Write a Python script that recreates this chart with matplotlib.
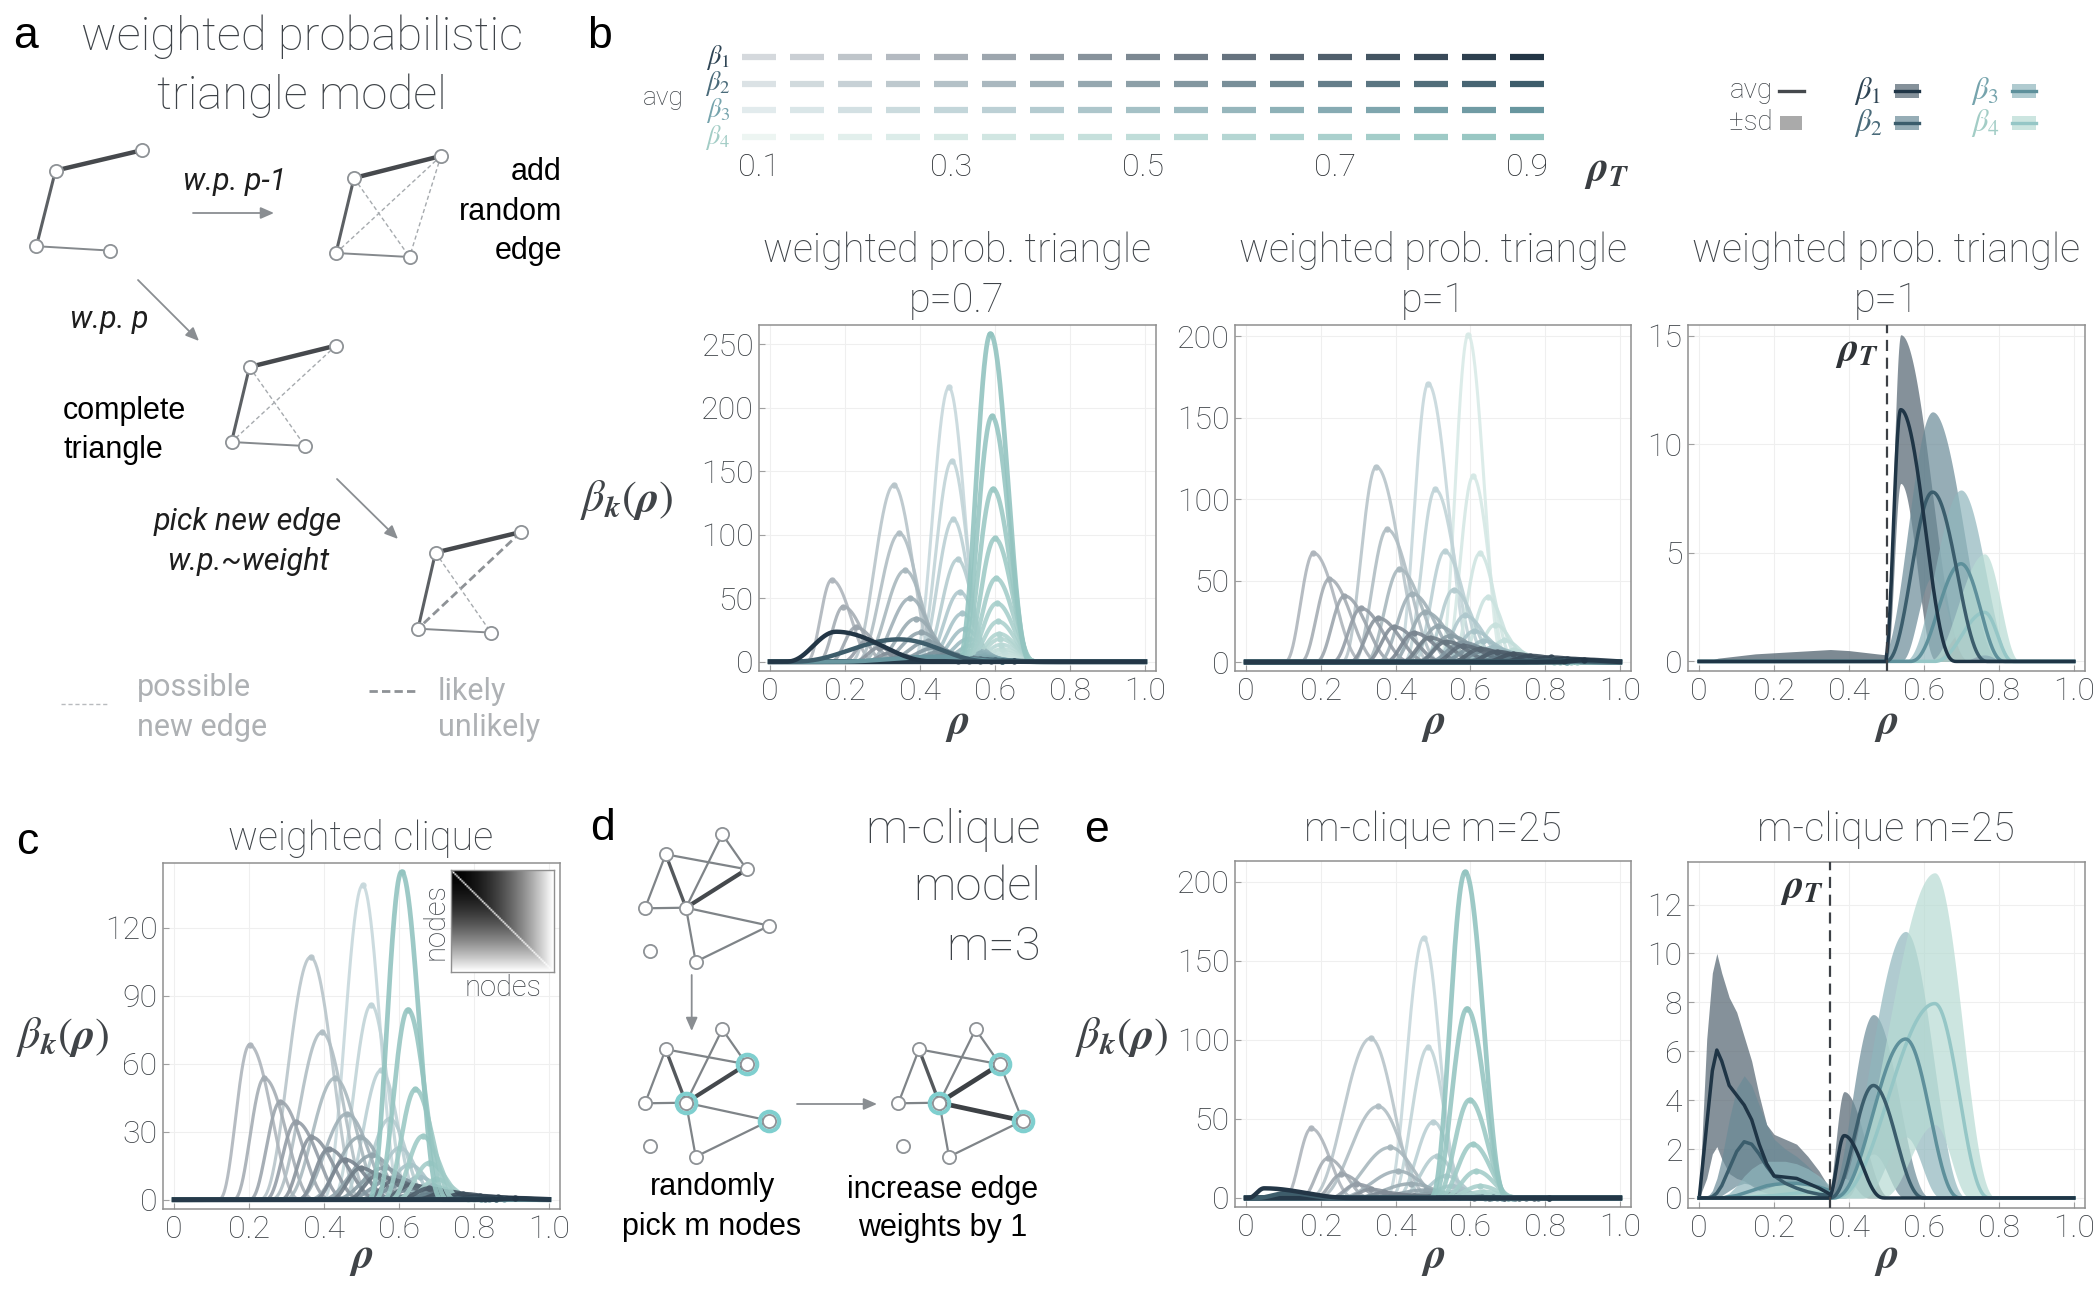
import numpy as np
import matplotlib
matplotlib.use("Agg")
import matplotlib.pyplot as plt
from matplotlib.colors import to_rgb
from matplotlib.patches import Rectangle

plt.rcParams["font.family"] = ["Roboto", "DejaVu Sans"]
plt.rcParams["font.weight"] = "light"
plt.rcParams["mathtext.fontset"] = "custom"
plt.rcParams["mathtext.rm"] = "STIXGeneral"
plt.rcParams["mathtext.it"] = "STIXGeneral:italic"
plt.rcParams["mathtext.bf"] = "STIXGeneral:italic:bold"

# ---------------- data ----------------
rho_T = [0.1, 0.15, 0.2, 0.25, 0.3, 0.35, 0.4, 0.45, 0.5, 0.55, 0.6, 0.65, 0.7, 0.75, 0.8, 0.85, 0.9]
x_ticks = [0, 0.2, 0.4, 0.6, 0.8, 1.0]
x_tick_labels = ["0", "0.2", "0.4", "0.6", "0.8", "1.0"]
legend_ticks = [0.1, 0.3, 0.5, 0.7, 0.9]

# betti curve peaks: one row per beta_k, columns ordered by rho_T (light -> dark)
# panel b, weighted prob. triangle p=0.7
b1_pos = [
    [0.164, 0.195, 0.228, 0.26, 0.29, 0.32, 0.35, 0.38, 0.41, 0.44, 0.47, 0.5, 0.53, 0.56, 0.59, 0.62, 0.65],
    [0.33, 0.345, 0.36, 0.374, 0.39, 0.403, 0.42, 0.44, 0.46, 0.48, 0.5, 0.52, 0.54, 0.56, 0.58, 0.6, 0.62],
    [0.477, 0.485, 0.489, 0.5, 0.506, 0.513, 0.52, 0.53, 0.54, 0.55, 0.56, 0.57, 0.58, 0.59, 0.6, 0.61, 0.62],
    [0.645, 0.64, 0.635, 0.63, 0.627, 0.624, 0.62, 0.617, 0.614, 0.611, 0.608, 0.605, 0.603, 0.6, 0.595, 0.592, 0.588],
]
b1_height = [
    [64.5, 43.4, 27, 17, 11, 7, 4.5, 3, 2, 1.5, 1, 0.8, 0.6, 0.5, 0.4, 0.3, 0.2],
    [139, 101, 72, 50, 34, 23, 16, 11, 8, 6, 4.5, 3.5, 2.5, 2, 1.5, 1, 0.7],
    [216, 158, 112, 80.5, 55, 38, 26, 18, 13, 9, 6.5, 4.5, 3.2, 2.3, 1.6, 1.1, 0.8],
    [1.5, 2, 3, 4, 5.5, 7.5, 10, 13.5, 18, 22, 31.7, 46, 65.6, 97, 136, 193, 258],
]
b1_wl = [0.07, 0.12, 0.10, 0.09]
b1_wr = [0.12, 0.12, 0.10, 0.11]
# broad, dark curves of panel b (p=0.7)
b1_broad_beta = [2, 1, 0]
b1_broad_pos = [0.45, 0.344, 0.176]
b1_broad_height = [4, 17.6, 23.6]
b1_broad_wl = [0.3, 0.3, 0.14]
b1_broad_wr = [0.2, 0.26, 0.28]

# panel b, weighted prob. triangle p=1
b2_pos = [
    [0.18, 0.222, 0.263, 0.307, 0.353, 0.396, 0.448, 0.491, 0.535, 0.58, 0.625, 0.67, 0.715, 0.76, 0.815, 0.86, 0.905],
    [0.348, 0.377, 0.41, 0.444, 0.479, 0.513, 0.545, 0.578, 0.61, 0.64, 0.67, 0.7, 0.73, 0.76, 0.79, 0.82, 0.85],
    [0.487, 0.506, 0.531, 0.555, 0.585, 0.61, 0.635, 0.66, 0.685, 0.71, 0.735, 0.76, 0.78, 0.8, 0.82, 0.84, 0.86],
    [0.594, 0.607, 0.625, 0.646, 0.667, 0.691, 0.714, 0.735, 0.755, 0.775, 0.795, 0.81, 0.825, 0.84, 0.855, 0.87, 0.885],
]
b2_height = [
    [67, 51, 40.6, 33, 27, 21.6, 18, 15, 12.5, 10, 8, 6.3, 5, 3.8, 2.8, 2, 1.3],
    [120, 81.5, 57, 42, 30.7, 22, 16, 12, 9, 7, 5.5, 4, 3, 2.2, 1.5, 1, 0.7],
    [171, 106, 68, 44.4, 28.6, 19, 13, 9, 6.5, 4.5, 3.2, 2.3, 1.6, 1.1, 0.8, 0.5, 0.3],
    [201, 114, 66.7, 39.8, 23, 13.3, 7.4, 4.2, 2.4, 1.4, 0.8, 0.5, 0.3, 0.2, 0.1, 0.1, 0.05],
]
b2_wl = [0.08, 0.095, 0.087, 0.08]
b2_wr = [0.14, 0.15, 0.13, 0.10]

# panel b, p=1 at rho_T=0.5: avg and +-sd envelopes (peak, height, left/right width)
b3_threshold = 0.5
b3_pos = [0.538, 0.623, 0.699, 0.762]
b3_avg = [11.6, 7.8, 4.5, 2.26]
b3_avg_wl = [0.045, 0.13, 0.14, 0.14]
b3_avg_wr = [0.15, 0.15, 0.12, 0.08]
b3_up = [15.05, 11.5, 7.9, 4.96]
b3_up_wl = [0.045, 0.15, 0.16, 0.16]
b3_up_wr = [0.19, 0.19, 0.15, 0.1]
b3_lo = [8.2, 3.9, 1.3, 0.3]
b3_lo_wl = [0.04, 0.09, 0.08, 0.07]
b3_lo_wr = [0.1, 0.1, 0.08, 0.06]
b3_pre_rho = [0.0, 0.02, 0.05, 0.1, 0.15, 0.2, 0.25, 0.3, 0.35, 0.4, 0.45, 0.5]
b3_pre_up = [0, 0, 0.15, 0.25, 0.35, 0.4, 0.45, 0.5, 0.55, 0.5, 0.4, 0.3]

# panel c, weighted clique
c_pos = [
    [0.201, 0.24, 0.283, 0.325, 0.366, 0.412, 0.455, 0.498, 0.543, 0.587, 0.632, 0.68, 0.726, 0.77, 0.817, 0.864, 0.909],
    [0.364, 0.394, 0.429, 0.461, 0.495, 0.528, 0.56, 0.59, 0.62, 0.65, 0.68, 0.71, 0.74, 0.77, 0.8, 0.83, 0.86],
    [0.503, 0.526, 0.552, 0.575, 0.602, 0.629, 0.655, 0.68, 0.705, 0.73, 0.755, 0.78, 0.8, 0.82, 0.84, 0.86, 0.88],
    [0.83, 0.82, 0.8, 0.785, 0.77, 0.76, 0.75, 0.74, 0.73, 0.72, 0.71, 0.7, 0.681, 0.663, 0.644, 0.624, 0.607],
]
c_height = [
    [68.3, 53.6, 43.2, 34.4, 27.6, 22.4, 17.7, 14, 10.8, 8.5, 6.5, 5, 3.6, 2.5, 1.6, 1, 0.6],
    [107, 73.8, 53.6, 37.9, 27.6, 19.6, 14, 10, 7, 5, 3.5, 2.5, 1.7, 1.1, 0.7, 0.4, 0.3],
    [138.7, 86, 57, 35.7, 22.9, 15.5, 10, 6.5, 4.2, 2.7, 1.7, 1.1, 0.7, 0.45, 0.3, 0.2, 0.1],
    [0.1, 0.2, 0.3, 0.5, 0.8, 1.2, 1.5, 2.2, 2.8, 4, 5, 9, 16.2, 28, 48.7, 83.8, 144.6],
]
c_wl = [0.085, 0.14, 0.11, 0.09]
c_wr = [0.14, 0.14, 0.11, 0.11]

# panel e, m-clique m=25
e1_pos = [
    [0.174, 0.218, 0.255, 0.295, 0.333, 0.37, 0.41, 0.45, 0.49, 0.53, 0.57, 0.61, 0.65, 0.69, 0.73, 0.77, 0.81],
    [0.333, 0.353, 0.385, 0.407, 0.442, 0.48, 0.51, 0.54, 0.57, 0.6, 0.63, 0.66, 0.69, 0.72, 0.75, 0.78, 0.81],
    [0.475, 0.487, 0.501, 0.511, 0.536, 0.55, 0.565, 0.58, 0.595, 0.61, 0.625, 0.64, 0.655, 0.67, 0.685, 0.7, 0.715],
    [0.73, 0.72, 0.71, 0.7, 0.69, 0.68, 0.67, 0.66, 0.655, 0.645, 0.635, 0.626, 0.616, 0.606, 0.598, 0.591, 0.586],
]
e1_height = [
    [44, 25, 15, 8.7, 5.5, 3.5, 2.2, 1.4, 0.9, 0.6, 0.4, 0.3, 0.2, 0.15, 0.1, 0.1, 0.05],
    [101, 58, 32, 17, 9, 5, 3, 2, 1.3, 0.9, 0.6, 0.4, 0.3, 0.2, 0.15, 0.1, 0.05],
    [164.5, 95.3, 48.2, 26.6, 14, 7.6, 4.2, 2.3, 1.3, 0.8, 0.5, 0.3, 0.2, 0.1, 0.1, 0.05, 0.05],
    [0.05, 0.1, 0.2, 0.3, 0.4, 0.6, 0.9, 1.3, 1.6, 2, 4, 7.6, 17, 34, 62, 119.7, 206],
]
e1_wl = [0.075, 0.17, 0.105, 0.095]
e1_wr = [0.12, 0.15, 0.105, 0.115]
e1_broad_beta = [1, 0]
e1_broad_pos = [0.11, 0.048]
e1_broad_height = [3.2, 6.1]
e1_broad_wl = [0.09, 0.045]
e1_broad_wr = [0.14, 0.25]

# panel e, m-clique m=25 at rho_T=0.35
e2_threshold = 0.35
e2_left_rho = [0, 0.02, 0.035, 0.047, 0.06, 0.08, 0.1, 0.12, 0.14, 0.16, 0.18, 0.2, 0.23, 0.26, 0.29, 0.32, 0.35]
e2_left_avg = [
    [0, 3.0, 5.2, 6.05, 5.6, 4.6, 4.2, 3.8, 3.2, 2.2, 1.4, 0.9, 0.85, 0.8, 0.6, 0.4, 0.15],
    [0, 0, 0.05, 0.2, 0.5, 1.2, 1.9, 2.3, 2.2, 1.8, 1.3, 0.9, 0.6, 0.4, 0.25, 0.15, 0.1],
    [0, 0, 0, 0, 0, 0.05, 0.1, 0.2, 0.3, 0.4, 0.5, 0.55, 0.6, 0.6, 0.55, 0.45, 0.3],
    [0, 0, 0, 0, 0, 0, 0, 0.02, 0.04, 0.06, 0.08, 0.1, 0.15, 0.2, 0.25, 0.2, 0.15],
]
e2_left_up = [
    [0, 6.5, 9.2, 10.0, 9.2, 8.2, 7.6, 6.6, 5.6, 4.2, 3.0, 2.6, 2.4, 2.2, 1.7, 1.1, 0.35],
    [0, 0, 0.3, 0.8, 1.6, 3.2, 4.5, 5.0, 4.6, 3.8, 3.0, 2.4, 2.0, 1.7, 1.3, 0.8, 0.3],
    [0, 0, 0, 0, 0.05, 0.2, 0.5, 0.9, 1.2, 1.4, 1.5, 1.5, 1.5, 1.4, 1.2, 0.9, 0.5],
    [0, 0, 0, 0, 0, 0, 0.05, 0.1, 0.2, 0.3, 0.4, 0.5, 0.6, 0.6, 0.6, 0.5, 0.4],
]
e2_left_lo = [
    [0, 0.8, 1.8, 2.1, 1.6, 1.0, 0.8, 0.7, 0.5, 0.3, 0.2, 0.1, 0.05, 0, 0, 0, 0],
    [0, 0, 0, 0, 0.1, 0.3, 0.5, 0.6, 0.55, 0.45, 0.35, 0.25, 0.15, 0.1, 0.05, 0.02, 0],
    [0] * 17,
    [0] * 17,
]
e2_pos = [0.387, 0.465, 0.551, 0.629]
e2_avg = [2.55, 4.6, 6.5, 7.95]
e2_avg_wl = [0.045, 0.12, 0.2, 0.28]
e2_avg_wr = [0.11, 0.14, 0.15, 0.15]
e2_up = [4.35, 7.5, 10.9, 13.3]
e2_up_wl = [0.05, 0.13, 0.21, 0.28]
e2_up_wr = [0.13, 0.16, 0.17, 0.17]
e2_lo = [0.8, 1.8, 2.5, 3.0]
e2_lo_wl = [0.03, 0.08, 0.12, 0.15]
e2_lo_wr = [0.07, 0.09, 0.1, 0.1]

# ---------------- styling ----------------
W, H = 2100, 1302
TXT = "#3e4348"
beta_light = ["#d5d9dd", "#dbe2e5", "#e2ebed", "#edf5f2"]
beta_dark = ["#233646", "#3e5d6b", "#68969f", "#93c4c0"]
beta_label = ["#2f4555", "#4a6b7a", "#76a4ad", "#a3cdc6"]
band_col = ["#52636f", "#6a8a97", "#8fb6bd", "#b7dbd3"]
avg_col = ["#1f3546", "#3b5d6c", "#5e909b", "#95c6c6"]


def mix(c1, c2, t):
    a, b = np.array(to_rgb(c1)), np.array(to_rgb(c2))
    return tuple(a + (b - a) * t)


palette = [[mix(beta_light[k], beta_dark[k], t) for t in np.linspace(0, 1, len(rho_T))] for k in range(4)]
curve_palette = [[mix(beta_light[k], beta_dark[k], t) for t in np.linspace(0.22, 1, len(rho_T))]
                 for k in range(4)]
rho = np.linspace(0, 1, 801)


def bump(x, c, h, wl, wr):
    w = np.where(x < c, wl, wr)
    u = (x - c) / w
    return h * np.clip(1.0 - u * u, 0.0, None) ** 3


fig = plt.figure(figsize=(W / 100, H / 100), dpi=100)


def px_axes(l, t, r, b):
    return fig.add_axes([l / W, 1 - b / H, (r - l) / W, (b - t) / H])


def style(ax, ylim, yticks):
    ax.set_xlim(-0.03, 1.03)
    ax.set_ylim(*ylim)
    ax.set_xticks(x_ticks)
    ax.set_xticklabels(x_tick_labels)
    ax.set_yticks(yticks)
    ax.set_yticklabels([str(v) for v in yticks])
    ax.grid(True, color="#efefef", lw=0.8)
    ax.set_axisbelow(True)
    for s in ax.spines.values():
        s.set_color("#8f8f8f")
        s.set_linewidth(1.1)
    ax.tick_params(direction="in", length=4, width=0.8, color="#a0a0a0",
                   labelsize=23, labelcolor=TXT, pad=4)


def draw_family(ax, pos, hgt, wl, wr):
    for i in range(len(rho_T)):
        for k in (3, 2, 1, 0):
            col = curve_palette[k][i]
            lw = 2.2 + 1.2 * i / 16
            if i == len(rho_T) - 1 and k == 0:
                lw = 3.6
            ax.plot(rho, bump(rho, pos[k][i], hgt[k][i], wl[k], wr[k]),
                    color=col, lw=lw, alpha=0.9, zorder=2)
            ax.plot([pos[k][i]], [hgt[k][i]], "o", ms=3.6, color=col, alpha=0.9, zorder=2)


def draw_broad(ax, ks, pos, hgt, wl, wr):
    for k, c, h, a, b in zip(ks, pos, hgt, wl, wr):
        ax.plot(rho, bump(rho, c, h, a, b), color=beta_dark[k], lw=3.2, zorder=3)


def draw_bands(ax, thr, pos, avg, awl, awr, up, uwl, uwr, lo, lwl, lwr):
    right = rho >= thr
    for k in range(4):
        u = np.where(right, bump(rho, pos[k], up[k], uwl[k], uwr[k]), 0)
        l = np.where(right, bump(rho, pos[k], lo[k], lwl[k], lwr[k]), 0)
        ax.fill_between(rho[right], l[right], u[right], color=band_col[k], alpha=0.7, lw=0, zorder=2)
    for k in (3, 2, 1, 0):
        a = np.where(right, bump(rho, pos[k], avg[k], awl[k], awr[k]), 0)
        ax.plot(rho, a, color=avg_col[k], lw=2.5, zorder=4)
    ax.axvline(thr, color="#3d4146", lw=1.6, dashes=(5, 3), zorder=5)


# ---- panel b: p=0.7
ax = px_axes(759, 325, 1156, 671)
style(ax, (-7.3, 265), [0, 50, 100, 150, 200, 250])
draw_family(ax, b1_pos, b1_height, b1_wl, b1_wr)
draw_broad(ax, b1_broad_beta, b1_broad_pos, b1_broad_height, b1_broad_wl, b1_broad_wr)

# ---- panel b: p=1
ax = px_axes(1235, 325, 1631, 671)
style(ax, (-5.5, 207), [0, 50, 100, 150, 200])
draw_family(ax, b2_pos, b2_height, b2_wl, b2_wr)

# ---- panel b: p=1 avg +- sd
ax = px_axes(1688, 325, 2085, 671)
style(ax, (-0.44, 15.5), [0, 5, 10, 15])
ax.fill_between(b3_pre_rho, 0, b3_pre_up, color=band_col[0], alpha=0.75, lw=0, zorder=2)
draw_bands(ax, b3_threshold, b3_pos, b3_avg, b3_avg_wl, b3_avg_wr,
           b3_up, b3_up_wl, b3_up_wr, b3_lo, b3_lo_wl, b3_lo_wr)
ax.text(0.48, 14.3, r"$\mathbf{\rho_T}$", fontsize=29, color="#2f3337", ha="right", va="center")

# ---- panel c
ax = px_axes(163, 863, 560, 1209)
style(ax, (-4.1, 148.5), [0, 30, 60, 90, 120])
draw_family(ax, c_pos, c_height, c_wl, c_wr)

# ---- panel e: m-clique
ax = px_axes(1235, 861, 1631, 1207)
style(ax, (-5.7, 213), [0, 50, 100, 150, 200])
draw_family(ax, e1_pos, e1_height, e1_wl, e1_wr)
draw_broad(ax, e1_broad_beta, e1_broad_pos, e1_broad_height, e1_broad_wl, e1_broad_wr)

ax = px_axes(1688, 862, 2085, 1208)
style(ax, (-0.41, 13.74), [0, 2, 4, 6, 8, 10, 12])
for k in range(4):
    ax.fill_between(e2_left_rho, e2_left_lo[k], e2_left_up[k], color=band_col[k], alpha=0.7, lw=0, zorder=2)
for k in (3, 2, 1, 0):
    ax.plot(e2_left_rho, e2_left_avg[k], color=avg_col[k], lw=2.5, zorder=4)
draw_bands(ax, e2_threshold, e2_pos, e2_avg, e2_avg_wl, e2_avg_wr,
           e2_up, e2_up_wl, e2_up_wr, e2_lo, e2_lo_wl, e2_lo_wr)
ax.text(0.335, 12.7, r"$\mathbf{\rho_T}$", fontsize=29, color="#2f3337", ha="right", va="center")

# ---- inset weight matrix in panel c
ins = px_axes(451, 870, 554, 972)
n = 60
ii, jj = np.meshgrid(np.arange(n), np.arange(n))
mat = (np.maximum(ii, jj) / (n - 1)) ** 1.7
mat[ii == jj] = 1.0
ins.imshow(mat, cmap="gray", vmin=0, vmax=1, interpolation="bilinear", aspect="auto")
ins.set_xticks([])
ins.set_yticks([])
for s in ins.spines.values():
    s.set_color("#8f8f8f")
    s.set_linewidth(1.0)

# ---- top legend (rho_T colour scale)
lg = px_axes(740, 41, 1550, 153)
lg.set_xlim(0.0802, 0.924)
lg.set_ylim(4.6, 0.4)
lg.axis("off")
for k in range(4):
    for i, r in enumerate(rho_T):
        lg.plot([r - 0.0175, r + 0.0175], [k + 1, k + 1], color=palette[k][i], lw=4.5,
                solid_capstyle="butt")
    lg.text(0.057, k + 1, r"$\beta_{%d}$" % (k + 1), color=beta_label[k], fontsize=19,
            ha="center", va="center")
for r in legend_ticks:
    lg.text(r, 5.15, f"{r:.1f}", fontsize=23, color="#2e3236", ha="center", va="center", clip_on=False)
lg.text(0.983, 5.25, r"$\mathbf{\rho_T}$", fontsize=30, color="#3a3e42", ha="center", va="center",
        clip_on=False)
lg.text(0.0, 2.55, "avg", fontsize=19, color=TXT, ha="center", va="center", clip_on=False)

# ---------------- overlay in pixel coordinates ----------------
ov = fig.add_axes([0, 0, 1, 1])
ov.set_xlim(0, W)
ov.set_ylim(H, 0)
ov.axis("off")

# right legend
ov.text(1773, 91, "avg", fontsize=20, color=TXT, ha="right", va="center")
ov.plot([1779, 1804], [91, 91], color="#45494d", lw=2.4)
ov.text(1773, 123, "±sd", fontsize=20, color=TXT, ha="right", va="center")
ov.add_patch(Rectangle((1780, 116), 22, 14, color="#aaaaaa", lw=0))
for k, (lx, ly) in enumerate([(1868, 91), (1868, 123), (1985, 91), (1985, 123)]):
    ov.text(lx, ly, r"$\beta_{%d}$" % (k + 1), fontsize=22, color=beta_label[k], ha="center", va="center")
    ov.add_patch(Rectangle((lx + 27, ly - 7), 24, 14, color=band_col[k], alpha=0.7, lw=0))
    ov.plot([lx + 27, lx + 51], [ly, ly], color=avg_col[k], lw=2.4)

# panel letters
for s, x, y in [("a", 13, 37), ("b", 587, 37), ("c", 16, 842), ("d", 590, 828), ("e", 1084, 830)]:
    ov.text(x, y, s, fontsize=32, color="black", fontfamily="Liberation Sans",
            fontweight="normal", ha="left", va="center")

# titles
ov.text(302, 37, "weighted probabilistic", fontsize=34, color=TXT, ha="center", va="center")
ov.text(302, 96, "triangle model", fontsize=34, color=TXT, ha="center", va="center")
for cx, sub in [(957, "p=0.7"), (1433, "p=1"), (1886, "p=1")]:
    ov.text(cx, 251, "weighted prob. triangle", fontsize=28.5, color=TXT, ha="center", va="center")
    ov.text(cx, 301, sub, fontsize=28.5, color=TXT, ha="center", va="center")
ov.text(361, 838, "weighted clique", fontsize=28.5, color=TXT, ha="center", va="center")
ov.text(1433, 830, "m-clique m=25", fontsize=28.5, color=TXT, ha="center", va="center")
ov.text(1886, 830, "m-clique m=25", fontsize=28.5, color=TXT, ha="center", va="center")
for txt, y in [("m-clique", 830), ("model", 887), ("m=3", 947)]:
    ov.text(1041, y, txt, fontsize=34, color=TXT, ha="right", va="center")

# axis labels
for cx, y in [(957, 724), (1433, 724), (1886, 724), (361, 1258), (1433, 1258), (1886, 1258)]:
    ov.text(cx, y, r"$\mathbf{\rho}$", fontsize=31, color="#404448", ha="center", va="center")
for cx, cy in [(627, 500), (63, 1037), (1122, 1037)]:
    ov.text(cx, cy, r"$\beta_{\mathbf{k}}(\mathbf{\rho})$", fontsize=32, color="#404448",
            ha="center", va="center")

# inset labels
ov.text(503, 988, "nodes", fontsize=21, color=TXT, ha="center", va="center")
ov.text(435, 922, "nodes", fontsize=21, color=TXT, ha="center", va="center", rotation=90)

# ---- panel a diagram
NODE = dict(marker="o", ms=9.5, mfc="white", mec="#8e9296", mew=1.3, ls="none", zorder=6)


def edge(p, q, kind):
    styles = {
        "thick": dict(color="#46494d", lw=3.2),
        "mid": dict(color="#5c6064", lw=2.2),
        "thin": dict(color="#85898d", lw=1.4),
        "poss": dict(color="#a6aaae", lw=1.0, dashes=(3, 2)),
        "likely": dict(color="#8e9296", lw=2.0, dashes=(3, 1.5)),
    }
    ov.plot([p[0], q[0]], [p[1], q[1]], zorder=4, solid_capstyle="round", **styles[kind])


def arrow(p, q):
    ov.annotate("", xy=q, xytext=p,
                arrowprops=dict(arrowstyle="-|>,head_length=0.8,head_width=0.35",
                                color="#8a8e92", lw=1.3, shrinkA=0, shrinkB=0))


graphs_a = [
    [(55.5, 170.6), (141.6, 150.3), (36.4, 246.2), (110.2, 250.6)],
    [(354, 178), (440.9, 156), (336, 253), (409.5, 257)],
    [(249.5, 367), (336, 345.6), (231.5, 442), (305, 446)],
    [(435.5, 552.6), (521, 532), (418, 628.7), (491, 632.6)],
]
for gi, g in enumerate(graphs_a):
    edge(g[0], g[1], "thick")
    edge(g[0], g[2], "mid")
    edge(g[2], g[3], "thin")
    if gi == 1:
        edge(g[0], g[3], "poss")
        edge(g[1], g[2], "poss")
        edge(g[1], g[3], "poss")
    if gi == 2:
        edge(g[0], g[3], "poss")
        edge(g[1], g[2], "poss")
    if gi == 3:
        edge(g[1], g[2], "likely")
        edge(g[0], g[3], "poss")
    ov.plot([p[0] for p in g], [p[1] for p in g], **NODE)

arrow((193, 213), (274, 213))
arrow((138, 280), (199, 341))
arrow((337, 479), (398, 539))
ITAL = dict(fontsize=22, style="italic", color="#1e1e1e", fontweight="normal", ha="center", va="center")
ov.text(235, 182, "w.p. p-1", **ITAL)
ov.text(109, 320, "w.p. p", **ITAL)
for txt, y in [("add", 172), ("random", 212), ("edge", 251)]:
    ov.text(562, y, txt, fontsize=22, color="black", fontfamily="Liberation Sans", fontweight="normal",
            ha="right", va="center")
for txt, y in [("complete", 411), ("triangle", 450)]:
    ov.text(63, y, txt, fontsize=22, color="black", fontfamily="Liberation Sans", fontweight="normal",
            ha="left", va="center")
for txt, y in [("pick new edge", 521), ("w.p.~weight", 562)]:
    ov.text(248, y, txt, **ITAL)
ov.plot([61, 107], [704, 704], color="#b8bbbe", lw=1.0, dashes=(3, 2))
ov.plot([369, 417], [691, 691], color="#8e9296", lw=2.0, dashes=(3, 1.5))
for txt, x, y in [("possible", 137, 687), ("new edge", 137, 727), ("likely", 438, 691), ("unlikely", 438, 727)]:
    ov.text(x, y, txt, fontsize=22, color="#aeb1b4", fontweight="normal", ha="left", va="center")

# ---- panel d diagram
d_nodes = {"A": (722.3, 834.3), "B": (665.7, 854.3), "C": (746.7, 869.3), "D": (645, 908.3),
           "E": (686, 907.7), "F": (769.3, 925.7), "G": (695.7, 961.7), "H": (650, 951)}
d_edges = [("B", "C", "thin"), ("A", "C", "thin"), ("A", "E", "thin"), ("B", "D", "thin"),
           ("D", "E", "thin"), ("E", "F", "thin"), ("E", "G", "thin"), ("G", "F", "thin"),
           ("B", "E", "mid"), ("C", "E", "thickd")]
d_styles = {"thin": dict(color="#7f8488", lw=1.6), "mid": dict(color="#55595d", lw=2.4),
            "thickd": dict(color="#45494d", lw=3.0), "thickest": dict(color="#3d4145", lw=3.4)}
for dx, dy, step in [(0, 0, 0), (0, 195, 1), (253.3, 195, 2)]:
    edges = list(d_edges)
    if step == 2:
        edges = [e for e in edges if e[:2] not in (("E", "F"), ("C", "E"))]
        edges += [("C", "E", "thickest"), ("E", "F", "thickest"), ("C", "F", "thin")]
    for a, b, kind in edges:
        pa, pb = d_nodes[a], d_nodes[b]
        ov.plot([pa[0] + dx, pb[0] + dx], [pa[1] + dy, pb[1] + dy], zorder=4,
                solid_capstyle="round", **d_styles[kind])
    if step > 0:
        for nm in ("C", "E", "F"):
            p = d_nodes[nm]
            ov.plot(p[0] + dx, p[1] + dy, marker="o", ms=14, mfc="none", mec="#7fcfcf", mew=3.0, zorder=5)
    ov.plot([p[0] + dx for p in d_nodes.values()], [p[1] + dy for p in d_nodes.values()], **NODE)
arrow((691.7, 975), (691.7, 1031))
arrow((797, 1104), (877, 1104))
for txt, x, y in [("randomly", 712, 1187), ("pick m nodes", 712, 1227),
                  ("increase edge", 943, 1190), ("weights by 1", 943, 1228)]:
    ov.text(x, y, txt, fontsize=22, color="black", fontfamily="Liberation Sans", fontweight="normal",
            ha="center", va="center")

fig.savefig("out.png", dpi=100)
